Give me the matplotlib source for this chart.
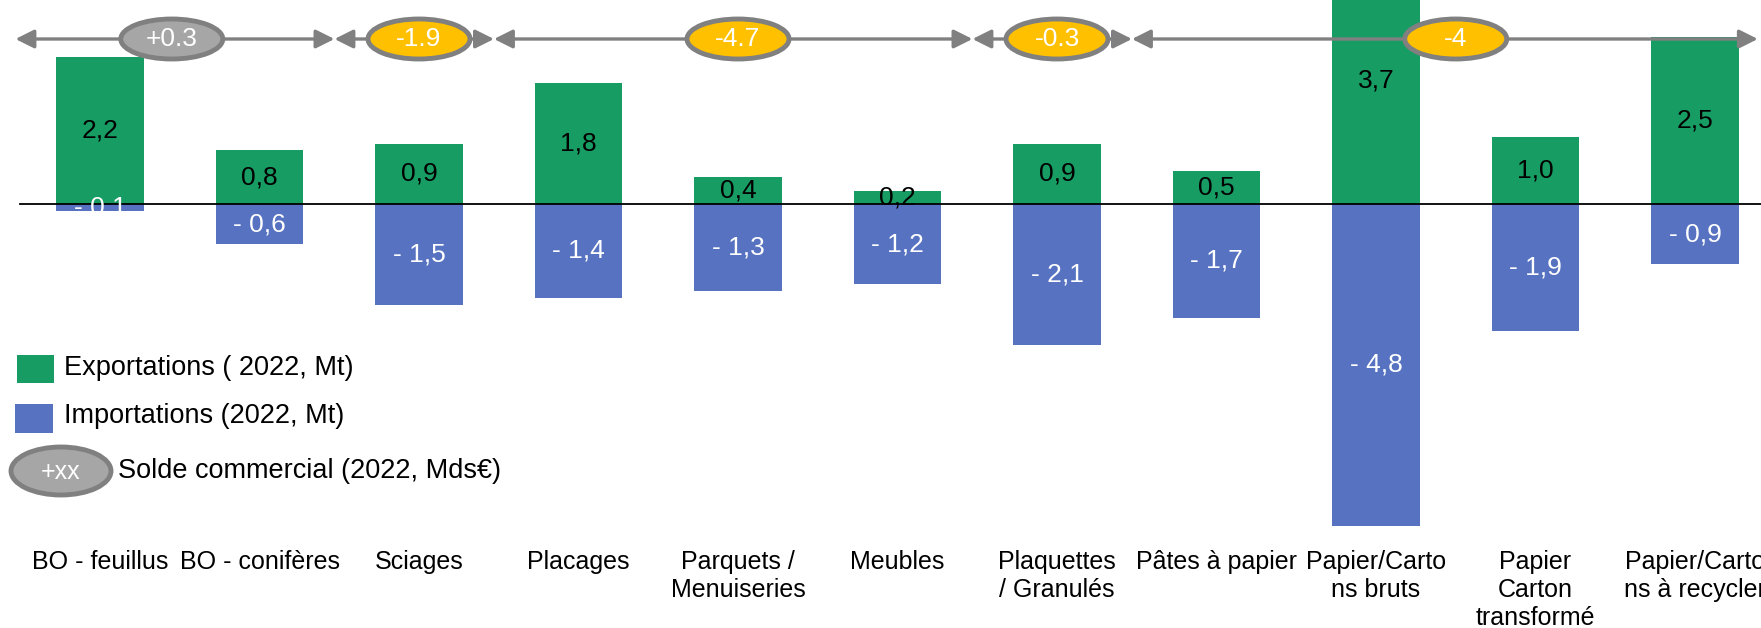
import matplotlib.pyplot as plt
from matplotlib.patches import Ellipse, Rectangle

plt.rcParams['font.family'] = ['Liberation Sans', 'DejaVu Sans']

# --- data ---
categories = ["BO - feuillus", "BO - conifères", "Sciages", "Placages",
              "Parquets /\nMenuiseries", "Meubles", "Plaquettes\n/ Granulés",
              "Pâtes à papier", "Papier/Carto\nns bruts", "Papier\nCarton\ntransformé",
              "Papier/Carto\nns à recycler"]
exports = [2.2, 0.8, 0.9, 1.8, 0.4, 0.2, 0.9, 0.5, 3.7, 1.0, 2.5]
imports = [-0.1, -0.6, -1.5, -1.4, -1.3, -1.2, -2.1, -1.7, -4.8, -1.9, -0.9]

# trade balance per group of categories (first index, last index)
solde_labels = ["+0.3", "-1.9", "-4.7", "-0.3", "-4"]
solde_groups = [(0, 1), (2, 2), (3, 5), (6, 6), (7, 10)]
solde_positive = [True, False, False, False, False]

GREEN = "#179C63"
BLUE = "#5672C0"
GREY = "#A6A6A6"
EDGE = "#808080"
YELLOW = "#FFC000"

W, H = 1761, 628
fig = plt.figure(figsize=(W / 100, H / 100), dpi=100)

# axes covers full width, top 540 px
ax_h = 540
ax = fig.add_axes([0, 1 - ax_h / H, 1, ax_h / H])
px_x = 159.5   # px per category
px_y = 67.0    # px per Mt
x_left = -100 / px_x
x_right = x_left + W / px_x
y_top = 204 / px_y
ax.set_xlim(x_left, x_right)
ax.set_ylim(y_top - ax_h / px_y, y_top)
ax.axis('off')

x = list(range(len(categories)))
bw = 0.55
ax.bar(x, exports, width=bw, color=GREEN, zorder=2)
ax.bar(x, imports, width=bw, color=BLUE, zorder=2)
ax.plot([-0.5, x_right], [0, 0], color='black', lw=1.3, zorder=3)

for i in x:
    ax.text(i, exports[i] / 2, f"{exports[i]:.1f}".replace('.', ','),
            ha='center', va='center', fontsize=19, color='black', zorder=4)
    ax.text(i, imports[i] / 2, "- " + f"{-imports[i]:.1f}".replace('.', ','),
            ha='center', va='center', fontsize=19, color='white', zorder=4)

# category labels
for i, c in enumerate(categories):
    ax.text(i, (204 - 550) / px_y, c, ha='center', va='top', fontsize=18,
            linespacing=1.22, clip_on=False)

# arrows + balance ellipses
y_arr = (204 - 39) / px_y
for (a, b), lab, pos in zip(solde_groups, solde_labels, solde_positive):
    x0 = a - 0.53
    x1 = min(b + 0.47, x_right - 0.02)
    ax.annotate('', xy=(x1, y_arr), xytext=(x0, y_arr),
                arrowprops=dict(arrowstyle='<|-|>', color=EDGE, lw=2.4,
                                mutation_scale=28, shrinkA=0, shrinkB=0),
                zorder=5)
    xc = (a + b) / 2 - (0.05 if pos else 0)
    e = Ellipse((xc, y_arr), 102 / px_x, 40 / px_y,
                facecolor=GREY if pos else YELLOW, edgecolor=EDGE, lw=3.5, zorder=6)
    ax.add_patch(e)
    ax.text(xc, y_arr, lab, ha='center', va='center', fontsize=19,
            color='white', zorder=7)

# legend (figure pixel coordinates, origin top-left)
def fx(v):
    return v / W

def fy(v):
    return 1 - v / H

fig.patches.append(Rectangle((fx(17), fy(383)), fx(37), 28 / H, facecolor=GREEN,
                             transform=fig.transFigure, figure=fig))
fig.patches.append(Rectangle((fx(15), fy(433)), fx(38), 29 / H, facecolor=BLUE,
                             transform=fig.transFigure, figure=fig))
fig.patches.append(Ellipse((fx(61), fy(471)), fx(100), 48 / H, facecolor=GREY,
                           edgecolor=EDGE, lw=3.5, transform=fig.transFigure, figure=fig))
fig.text(fx(61), fy(472), "+xx", ha='center', va='center', fontsize=18, color='white')
fig.text(fx(64), fy(368), "Exportations ( 2022, Mt)", va='center', fontsize=19.5)
fig.text(fx(64), fy(416), "Importations (2022, Mt)", va='center', fontsize=19.5)
fig.text(fx(118), fy(471), "Solde commercial (2022, Mds€)", va='center', fontsize=19.5)

fig.savefig("out.png", dpi=100)
